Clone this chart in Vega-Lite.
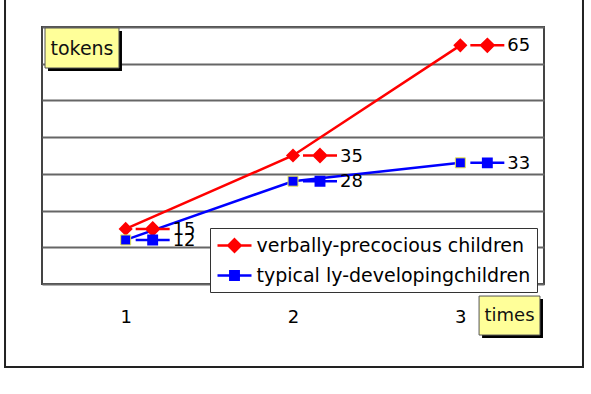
{
  "$schema": "https://vega.github.io/schema/vega-lite/v6.json",
  "autosize": {"type": "none"},
  "width": 502,
  "height": 257,
  "padding": {"left": 42, "top": 27, "right": 47, "bottom": 110},
  "background": "white",
  "config": {
    "font": "DejaVu Sans",
    "view": {"stroke": "#444", "strokeWidth": 2}
  },
  "datasets": {
    "series": [
      {"time": 1, "series": "verbally-precocious children", "tokens": 15},
      {"time": 2, "series": "verbally-precocious children", "tokens": 35},
      {"time": 3, "series": "verbally-precocious children", "tokens": 65},
      {"time": 1, "series": "typical ly-developingchildren", "tokens": 12},
      {"time": 2, "series": "typical ly-developingchildren", "tokens": 28},
      {"time": 3, "series": "typical ly-developingchildren", "tokens": 33}
    ],
    "tokensLabel": [{"label": "tokens"}],
    "timesLabel": [{"label": "times"}]
  },
  "data": {"name": "series"},
  "layer": [
    {
      "mark": {"type": "line", "strokeWidth": 2.5},
      "encoding": {
        "x": {
          "field": "time", "type": "quantitative", "title": null,
          "scale": {"domain": [0.5, 3.5], "nice": false, "zero": false},
          "axis": {"values": [1, 2, 3], "tickCount": 10, "format": "d", "grid": false, "ticks": false, "domain": false,
                   "labelFontSize": 18, "labelColor": "#000", "labelPadding": 24, "title": null}
        },
        "y": {
          "field": "tokens", "type": "quantitative", "title": null,
          "scale": {"domain": [0, 70], "nice": false},
          "axis": {"values": [0, 10, 20, 30, 40, 50, 60, 70], "tickCount": 20, "grid": true, "gridColor": "#666", "gridWidth": 2,
                   "labels": false, "ticks": false, "domain": false, "title": null}
        },
        "color": {
          "field": "series", "type": "nominal", "title": null,
          "scale": {"domain": ["verbally-precocious children", "typical ly-developingchildren"], "range": ["#ff0000", "#0000ff"]},
          "legend": {
            "orient": "none", "legendX": 168, "legendY": 201, "title": null,
            "fillColor": "white", "strokeColor": "#333", "padding": 6,
            "labelFontSize": 19, "labelFont": "DejaVu Sans", "labelColor": "#000", "labelLimit": 400,
            "symbolSize": 400, "symbolStrokeWidth": 2.5, "symbolOffset": 7, "labelOffset": 10.5, "rowPadding": 7
          }
        }
      }
    },
    {
      "data": {"values": [{}]},
      "mark": {"type": "rect", "filled": false, "stroke": "#222", "strokeWidth": 2},
      "encoding": {
        "x": {"datum": 0.279, "type": "quantitative", "title": null},
        "x2": {"datum": 3.733},
        "y": {"datum": 79, "type": "quantitative", "title": null},
        "y2": {"datum": -22.6}
      }
    },
    {
      "transform": [{"filter": "datum.series === 'verbally-precocious children'"}],
      "mark": {"type": "point", "shape": "diamond", "filled": true, "size": 200, "opacity": 1},
      "encoding": {
        "x": {"field": "time", "type": "quantitative", "title": null},
        "y": {"field": "tokens", "type": "quantitative", "title": null},
        "color": {"field": "series", "type": "nominal", "title": null}
      }
    },
    {
      "transform": [{"filter": "datum.series === 'typical ly-developingchildren'"}],
      "mark": {"type": "point", "shape": "square", "filled": true, "size": 100, "opacity": 1, "stroke": "#e8e850", "strokeWidth": 1},
      "encoding": {
        "x": {"field": "time", "type": "quantitative", "title": null},
        "y": {"field": "tokens", "type": "quantitative", "title": null},
        "color": {"field": "series", "type": "nominal", "title": null}
      }
    },
    {
      "mark": {"type": "point", "filled": true, "size": 400, "xOffset": 27, "strokeWidth": 2.5, "opacity": 1},
      "encoding": {
        "x": {"field": "time", "type": "quantitative", "title": null},
        "y": {"field": "tokens", "type": "quantitative", "title": null},
        "color": {"field": "series", "type": "nominal", "title": null},
        "stroke": {
          "field": "series", "type": "nominal", "title": null,
          "scale": {"domain": ["verbally-precocious children", "typical ly-developingchildren"], "range": ["#ff0000", "#0000ff"]}
        },
        "shape": {
          "field": "series", "type": "nominal", "title": null,
          "scale": {"domain": ["verbally-precocious children", "typical ly-developingchildren"],
                    "range": ["M-1.7,0H1.7M0,-0.62L0.62,0L0,0.62L-0.62,0Z", "M-1.7,0H1.7M-0.42,-0.42H0.42V0.42H-0.42Z"]}
        }
      }
    },
    {
      "mark": {"type": "text", "align": "left", "baseline": "middle", "dx": 47, "dy": 1, "fontSize": 18, "color": "#000"},
      "encoding": {
        "x": {"field": "time", "type": "quantitative", "title": null},
        "y": {"field": "tokens", "type": "quantitative", "title": null},
        "text": {"field": "tokens", "type": "quantitative"}
      }
    },
    {
      "data": {"name": "tokensLabel"},
      "mark": {"type": "rect", "fill": "#000", "xOffset": 3, "x2Offset": 3, "yOffset": 3, "y2Offset": 3},
      "encoding": {
        "x": {"datum": 0.518, "type": "quantitative", "title": null},
        "x2": {"datum": 0.96},
        "y": {"datum": 69.73, "type": "quantitative", "title": null},
        "y2": {"datum": 58.83}
      }
    },
    {
      "data": {"name": "tokensLabel"},
      "mark": {"type": "rect", "fill": "#ffff99", "stroke": "#555", "strokeWidth": 1},
      "encoding": {
        "x": {"datum": 0.518, "type": "quantitative", "title": null},
        "x2": {"datum": 0.96},
        "y": {"datum": 69.73, "type": "quantitative", "title": null},
        "y2": {"datum": 58.83}
      }
    },
    {
      "data": {"name": "tokensLabel"},
      "mark": {"type": "text", "align": "center", "baseline": "middle", "fontSize": 19, "color": "#111"},
      "encoding": {
        "x": {"datum": 0.739, "type": "quantitative", "title": null},
        "y": {"datum": 64.0, "type": "quantitative", "title": null},
        "text": {"field": "label"}
      }
    },
    {
      "data": {"name": "timesLabel"},
      "mark": {"type": "rect", "fill": "#000", "xOffset": 3, "x2Offset": 3, "yOffset": 3, "y2Offset": 3},
      "encoding": {
        "x": {"datum": 3.112, "type": "quantitative", "title": null},
        "x2": {"datum": 3.476},
        "y": {"datum": -3.28, "type": "quantitative", "title": null},
        "y2": {"datum": -13.9}
      }
    },
    {
      "data": {"name": "timesLabel"},
      "mark": {"type": "rect", "fill": "#ffff99", "stroke": "#555", "strokeWidth": 1},
      "encoding": {
        "x": {"datum": 3.112, "type": "quantitative", "title": null},
        "x2": {"datum": 3.476},
        "y": {"datum": -3.28, "type": "quantitative", "title": null},
        "y2": {"datum": -13.9}
      }
    },
    {
      "data": {"name": "timesLabel"},
      "mark": {"type": "text", "align": "center", "baseline": "middle", "fontSize": 18, "color": "#111"},
      "encoding": {
        "x": {"datum": 3.294, "type": "quantitative", "title": null},
        "y": {"datum": -8.6, "type": "quantitative", "title": null},
        "text": {"field": "label"}
      }
    }
  ]
}
